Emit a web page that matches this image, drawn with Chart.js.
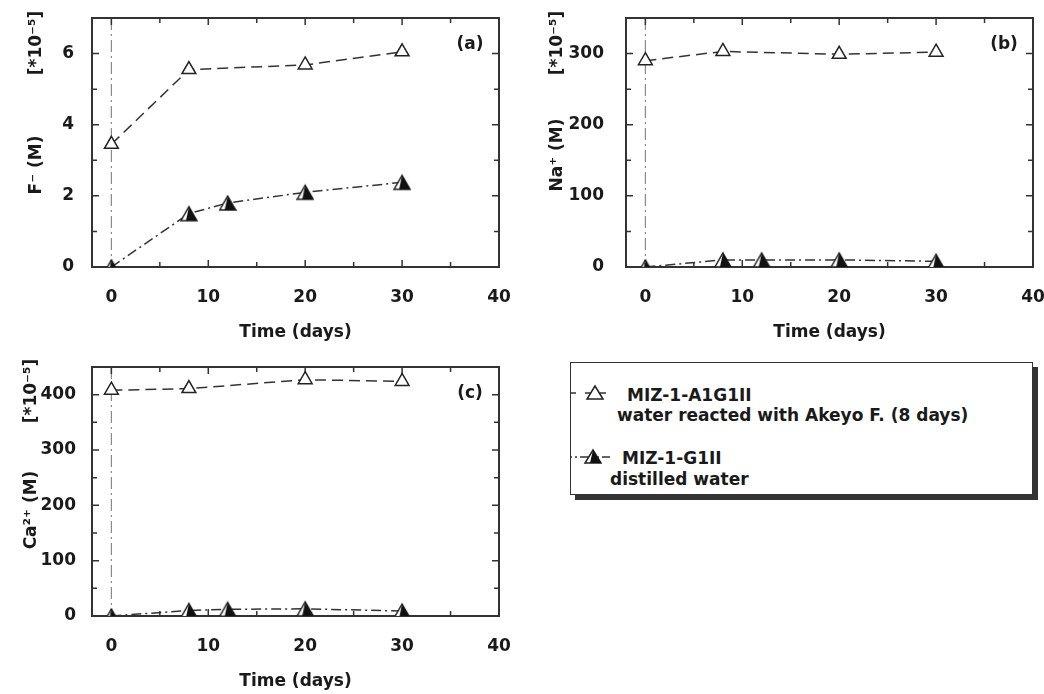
<!DOCTYPE html>
<html>
<head>
<meta charset="utf-8">
<script src="https://cdn.jsdelivr.net/npm/chart.js@4.4.1/dist/chart.umd.min.js"></script>
<style>
  body { margin: 0; background: #fff; width: 1044px; height: 694px; overflow: hidden; position: relative;
         font-family: "DejaVu Sans", sans-serif; font-weight: bold; color: #1a1a1a; }
  canvas.panel { position: absolute; }
  #legendBox { position: absolute; left: 570px; top: 362px; width: 463px; height: 133px; box-sizing: border-box;
               border: 1.5px solid #333; background: #fff; box-shadow: 5px 5px 0 #333; }
  .lg { position: absolute; font-size: 17px; line-height: 20px; white-space: nowrap; }
  .sym { position: absolute; }
</style>
</head>
<body>
<canvas id="chartF" class="panel" width="510" height="345" style="left:0;top:0"></canvas>
<canvas id="chartNa" class="panel" width="510" height="345" style="left:534px;top:0"></canvas>
<canvas id="chartCa" class="panel" width="510" height="345" style="left:0;top:349px"></canvas>

<div id="legendBox"></div>
<svg class="sym" style="left:570px;top:383px" width="46" height="20">
  <line x1="0" y1="10" x2="44" y2="10" stroke="#333" stroke-width="1.5" stroke-dasharray="6,9"/>
  <polygon points="25,3 33,16 17,16" fill="#fff" stroke="#222" stroke-width="1.5"/>
</svg>
<div class="lg" style="left:627px;top:385px">MIZ-1-A1G1II</div>
<div class="lg" style="left:617px;top:405px">water reacted with Akeyo F. (8 days)</div>
<svg class="sym" style="left:570px;top:447px" width="46" height="20">
  <line x1="0" y1="10" x2="44" y2="10" stroke="#333" stroke-width="1.5" stroke-dasharray="2,3,2,3,8,4"/>
  <polygon points="23,3 31,16 15,16" fill="#fff" stroke="#222" stroke-width="1.5"/>
  <polygon points="23,3 31,16 20,16" fill="#111"/>
</svg>
<div class="lg" style="left:622px;top:448px">MIZ-1-G1II</div>
<div class="lg" style="left:610px;top:469px">distilled water</div>

<script>
// days of sampling
var daysA = [0, 8, 20, 30];
var daysG = [0, 8, 12, 20, 30];

// F- (M) *10^-5
var fluorideA = [3.45, 5.55, 5.68, 6.05];
var fluorideG = [0, 1.5, 1.8, 2.1, 2.38];
// Na+ (M) *10^-5
var sodiumA = [290, 303, 299, 302];
var sodiumG = [0, 10, 10, 10, 8];
// Ca2+ (M) *10^-5
var calciumA = [408, 411, 427, 424];
var calciumG = [0, 10, 12, 13, 9];

var xTicks = [0, 10, 20, 30, 40];
var xMinor = [5, 15, 25, 35];
var fTicks = [0, 2, 4, 6];
var fMinor = [1, 3, 5];
var naTicks = [0, 100, 200, 300];
var naMinor = [50, 150, 250];
var caTicks = [0, 100, 200, 300, 400];
var caMinor = [50, 150, 250, 350];

var seriesNames = ["MIZ-1-A1G1II", "MIZ-1-G1II"];
var fontFamily = "'DejaVu Sans', sans-serif";

// half filled triangle marker
function halfTriangle()
{
  var c = document.createElement("canvas");
  c.width = 18; c.height = 18;
  var g = c.getContext("2d");
  g.lineWidth = 1.5;
  g.strokeStyle = "#222";
  g.fillStyle = "#fff";
  g.beginPath(); g.moveTo(9, 2); g.lineTo(17, 16); g.lineTo(1, 16); g.closePath();
  g.fill(); g.stroke();
  g.fillStyle = "#111";
  g.beginPath(); g.moveTo(9, 2); g.lineTo(17, 16); g.lineTo(6, 16); g.closePath();
  g.fill();
  return c;
}
var halfMarker = halfTriangle();

function points(xs, ys)
{
  return xs.map(function(x, i) { return {x: x, y: ys[i]}; });
}

var framePlugin = {
  id: "frame",
  beforeDatasetsDraw: function(chart)
  {
    var ctx = chart.ctx, a = chart.chartArea;
    var xs = chart.scales.x, ys = chart.scales.y;
    var cfg = chart.options.plugins.frame;
    ctx.save();
    // dash-dot marker line at day 0
    var x0 = xs.getPixelForValue(0);
    ctx.strokeStyle = "#8a8a8a";
    ctx.lineWidth = 1.2;
    ctx.setLineDash([12, 4, 2, 4]);
    ctx.beginPath(); ctx.moveTo(x0, a.top); ctx.lineTo(x0, a.bottom); ctx.stroke();
    ctx.setLineDash([]);

    ctx.strokeStyle = "#333";
    ctx.lineWidth = 2;
    ctx.strokeRect(a.left, a.top, a.right - a.left, a.bottom - a.top);

    ctx.lineWidth = 1.5;
    function xt(v, len)
    {
      var p = xs.getPixelForValue(v);
      ctx.beginPath();
      ctx.moveTo(p, a.bottom); ctx.lineTo(p, a.bottom - len);
      ctx.moveTo(p, a.top); ctx.lineTo(p, a.top + len);
      ctx.stroke();
    }
    function yt(v, len)
    {
      var p = ys.getPixelForValue(v);
      ctx.beginPath();
      ctx.moveTo(a.left, p); ctx.lineTo(a.left + len, p);
      ctx.moveTo(a.right, p); ctx.lineTo(a.right - len, p);
      ctx.stroke();
    }
    xTicks.forEach(function(v) { xt(v, 7); });
    xMinor.forEach(function(v) { xt(v, 5); });
    cfg.yMajor.forEach(function(v) { yt(v, 7); });
    cfg.yMinor.forEach(function(v) { yt(v, 5); });
    ctx.restore();
  },
  afterDraw: function(chart)
  {
    var ctx = chart.ctx, a = chart.chartArea;
    var cfg = chart.options.plugins.frame;
    ctx.save();
    ctx.fillStyle = "#1a1a1a";
    ctx.font = "bold 17px " + fontFamily;
    ctx.textAlign = "center";
    ctx.textBaseline = "middle";
    ctx.fillText("Time (days)", (a.left + a.right) / 2, 333);
    ctx.fillText(cfg.tag, 470, 45);

    ctx.translate(cfg.titleX, 0);
    ctx.rotate(-Math.PI / 2);
    ctx.fillText(cfg.title, -cfg.titleY, 0);
    ctx.fillText("[*10\u207B\u2075]", -cfg.unitY, 0);
    ctx.restore();
  }
};

function makeChart(id, valsA, valsG, yMax, yMajor, yMinor, extra)
{
  var tickFont = {family: fontFamily, size: 17, weight: "bold"};
  return new Chart(document.getElementById(id), {
    type: "scatter",
    data: {
      datasets: [
        {
          label: seriesNames[0],
          data: points(daysA, valsA),
          showLine: true,
          borderColor: "#333",
          borderWidth: 1.5,
          borderDash: [11, 6],
          pointStyle: "triangle",
          pointRadius: 8,
          pointBackgroundColor: "#fff",
          pointBorderColor: "#222",
          pointBorderWidth: 1.5
        },
        {
          label: seriesNames[1],
          data: points(daysG, valsG),
          showLine: true,
          borderColor: "#333",
          borderWidth: 1.5,
          borderDash: [10, 4, 2, 4],
          pointStyle: halfMarker,
          pointRadius: 8
        }
      ]
    },
    options: {
      responsive: false,
      animation: false,
      layout: {padding: {top: 18, right: 11, left: 0, bottom: 0}},
      plugins: {
        legend: {display: false},
        tooltip: {enabled: false},
        frame: extra
      },
      scales: {
        x: {
          type: "linear", min: -2, max: 40,
          grid: {display: false}, border: {display: false},
          ticks: {font: tickFont, color: "#1a1a1a", padding: 12},
          afterBuildTicks: function(s) { s.ticks = xTicks.map(function(v) { return {value: v}; }); },
          afterFit: function(s) { s.height = 78; s.paddingLeft = 0; s.paddingRight = 0; }
        },
        y: {
          type: "linear", min: 0, max: yMax,
          grid: {display: false}, border: {display: false},
          ticks: {font: tickFont, color: "#1a1a1a", padding: extra.pad},
          afterBuildTicks: function(s) { s.ticks = yMajor.map(function(v) { return {value: v}; }); },
          afterFit: function(s) { s.width = 92; s.paddingTop = 0; s.paddingBottom = 0; }
        }
      }
    },
    plugins: [framePlugin]
  });
}

makeChart("chartF", fluorideA, fluorideG, 7, fTicks, fMinor,
  {yMajor: fTicks, yMinor: fMinor, tag: "(a)", title: "F\u207B (M)", titleX: 37, titleY: 165, unitY: 43, pad: 10});
makeChart("chartNa", sodiumA, sodiumG, 350, naTicks, naMinor,
  {yMajor: naTicks, yMinor: naMinor, tag: "(b)", title: "Na\u207A (M)", titleX: 24, titleY: 155, unitY: 43, pad: 14});
makeChart("chartCa", calciumA, calciumG, 450, caTicks, caMinor,
  {yMajor: caTicks, yMinor: caMinor, tag: "(c)", title: "Ca\u00B2\u207A (M)", titleX: 32, titleY: 161, unitY: 42, pad: 8});
</script>
</body>
</html>
